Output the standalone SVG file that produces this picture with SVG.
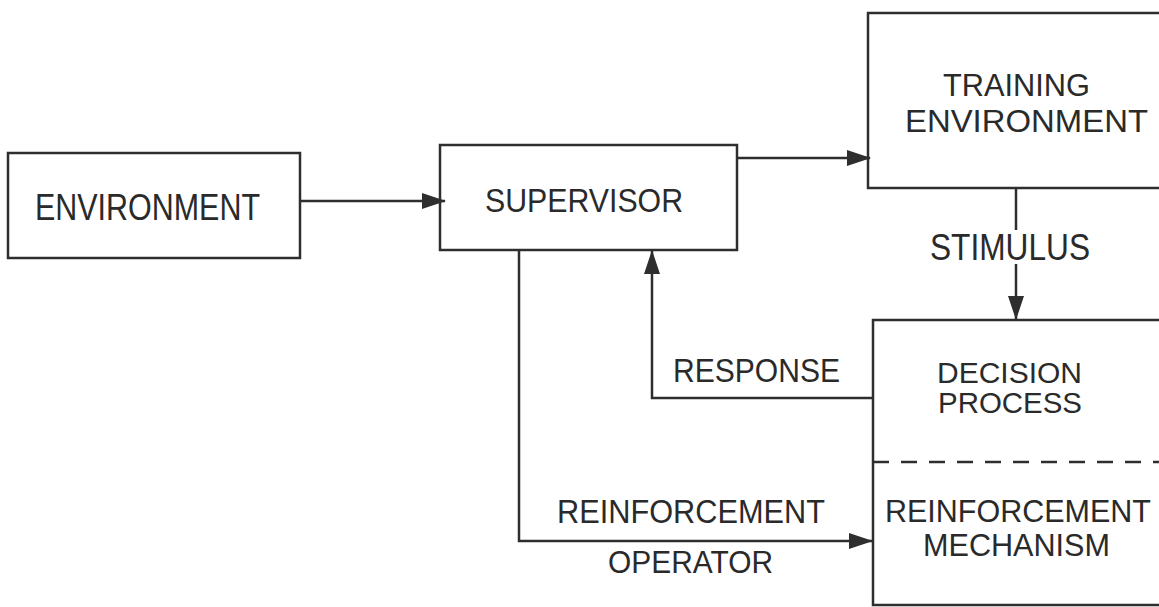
<svg xmlns="http://www.w3.org/2000/svg" width="1159" height="607" viewBox="0 0 1159 607">
<style>
.box{fill:none;stroke:#2e2e2e;stroke-width:2.5}
.ln{fill:none;stroke:#2e2e2e;stroke-width:2.5}
.t{font-family:"Liberation Sans",Arial,sans-serif;fill:#2a2a2a}
</style>
<defs>
<marker id="ah" markerUnits="userSpaceOnUse" markerWidth="24" markerHeight="18" refX="23" refY="9" orient="auto">
<path d="M0,1 L24,9 L0,17 z" fill="#2e2e2e"/>
</marker>
</defs>
<rect width="1159" height="607" fill="#ffffff"/>
<g id="connectors">
<line class="ln" x1="300" y1="201" x2="445" y2="201" marker-end="url(#ah)"/>
<line class="ln" x1="737" y1="158" x2="870" y2="158" marker-end="url(#ah)"/>
<polyline class="ln" points="1016,188 1016,230"/>
<line class="ln" x1="1016" y1="264" x2="1016" y2="319" marker-end="url(#ah)"/>
<polyline class="ln" points="873,398 652,398 652,251" marker-end="url(#ah)"/>
<polyline class="ln" points="519,250 519,541 872,541" marker-end="url(#ah)"/>
<text class="t" x="673" y="382" font-size="34" textLength="167" lengthAdjust="spacingAndGlyphs">RESPONSE</text>
<text class="t" x="930" y="260" font-size="36" textLength="160" lengthAdjust="spacingAndGlyphs">STIMULUS</text>
<text class="t" x="557" y="523" font-size="34" textLength="268" lengthAdjust="spacingAndGlyphs">REINFORCEMENT</text>
<text class="t" x="608" y="573" font-size="31" textLength="165" lengthAdjust="spacingAndGlyphs">OPERATOR</text>
</g>
<g id="environment">
<rect class="box" x="8" y="153" width="292" height="105"/>
<text class="t" x="35" y="220" font-size="37" textLength="225" lengthAdjust="spacingAndGlyphs">ENVIRONMENT</text>
</g>
<g id="supervisor">
<rect class="box" x="440" y="145" width="297" height="105"/>
<text class="t" x="485" y="212" font-size="34" textLength="198" lengthAdjust="spacingAndGlyphs">SUPERVISOR</text>
</g>
<g id="training-environment">
<polyline class="box" points="1162,13 868,13 868,188 1162,188"/>
<text class="t" x="943" y="96" font-size="32" textLength="147" lengthAdjust="spacingAndGlyphs">TRAINING</text>
<text class="t" x="905" y="132" font-size="32" textLength="243" lengthAdjust="spacingAndGlyphs">ENVIRONMENT</text>
</g>
<g id="decision-reinforcement">
<polyline class="box" points="1162,320 873,320 873,605 1162,605"/>
<line class="ln" x1="873" y1="462" x2="1159" y2="462" stroke-dasharray="16,12"/>
<text class="t" x="937" y="383" font-size="30" textLength="145" lengthAdjust="spacingAndGlyphs">DECISION</text>
<text class="t" x="938" y="413" font-size="30" textLength="144" lengthAdjust="spacingAndGlyphs">PROCESS</text>
<text class="t" x="885" y="522" font-size="32" textLength="266" lengthAdjust="spacingAndGlyphs">REINFORCEMENT</text>
<text class="t" x="923" y="556" font-size="32" textLength="187" lengthAdjust="spacingAndGlyphs">MECHANISM</text>
</g>
</svg>
